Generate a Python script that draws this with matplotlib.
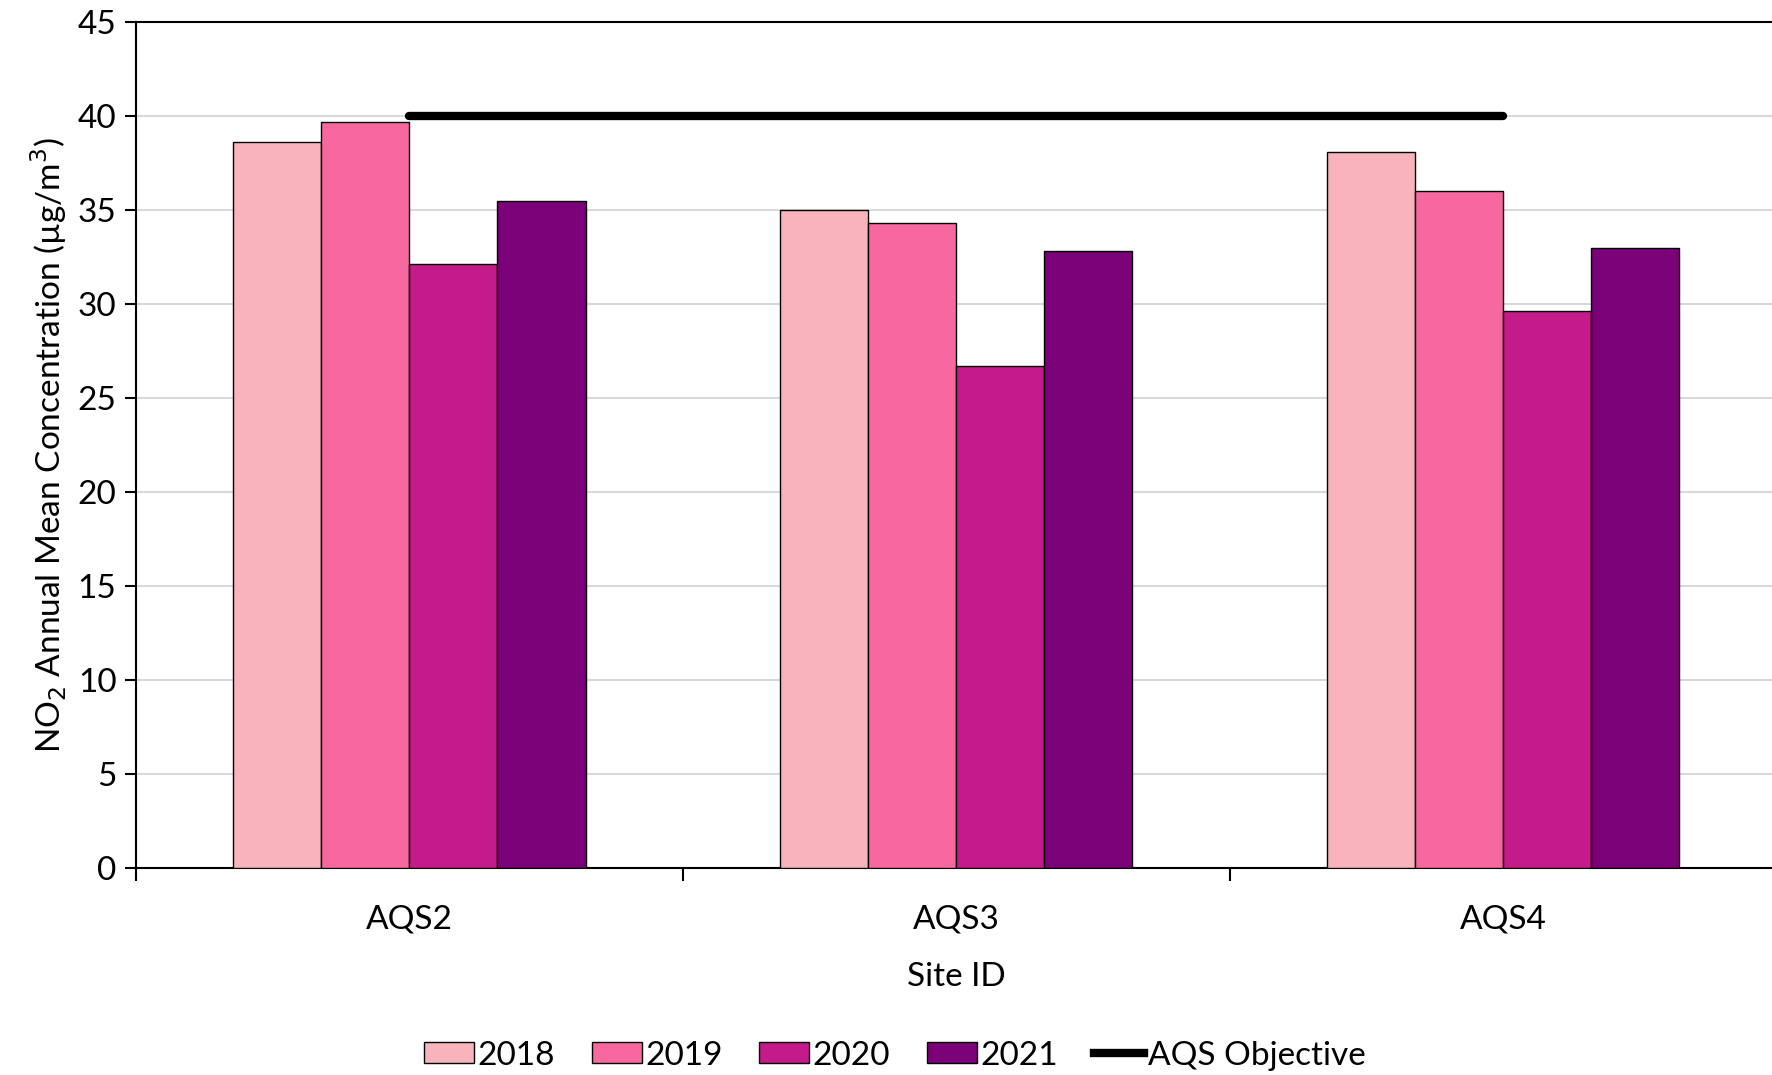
import numpy as np
import matplotlib
matplotlib.use("Agg")
import matplotlib.pyplot as plt
from matplotlib.lines import Line2D
from matplotlib.patches import Patch

plt.rcParams['font.family'] = ['Lato', 'DejaVu Sans']

sites = ['AQS2', 'AQS3', 'AQS4']
years = ['2018', '2019', '2020', '2021']
conc_2018 = [38.6, 35.0, 38.1]
conc_2019 = [39.7, 34.3, 36.0]
conc_2020 = [32.1, 26.7, 29.6]
conc_2021 = [35.5, 32.8, 33.0]
objective = 40
colors = ['#F9B3BB', '#F768A1', '#C51B8A', '#7A0177']

series = [conc_2018, conc_2019, conc_2020, conc_2021]

fig = plt.figure(figsize=(17.72, 10.75), dpi=100)
ax = fig.add_axes([0.0767, 0.1926, 0.926, 0.787])

centers = np.arange(len(sites)) + 0.5
w = 0.161
for i, (vals, c) in enumerate(zip(series, colors)):
    ax.bar(centers + (i - 1.5) * w, vals, width=w, color=c,
           edgecolor='black', linewidth=1.0, zorder=3)

# objective line spans the site centres
ax.plot([centers[0], centers[-1]], [objective, objective], color='black',
        linewidth=6, solid_capstyle='round', zorder=4)

ax.set_xlim(0, 3.0)
ax.set_ylim(0, 45)
ax.set_yticks(np.arange(0, 46, 5))
ax.yaxis.grid(True, color='#D9D9D9', linewidth=1.5, zorder=0)
ax.set_axisbelow(True)

ax.set_xticks([0, 1, 2, 3])
ax.set_xticklabels([])
ax.set_xticks(centers, minor=True)
ax.set_xticklabels(sites, minor=True)
ax.tick_params(axis='x', which='major', length=9, width=1.5, direction='out')
ax.tick_params(axis='x', which='minor', length=0, pad=26, labelsize=24)
ax.tick_params(axis='y', length=8, width=1.5, labelsize=24, pad=6)

for s in ['left', 'bottom', 'top']:
    ax.spines[s].set_linewidth(1.5)
    ax.spines[s].set_color('black')
ax.spines['right'].set_visible(False)

ax.set_xlabel('Site ID', fontsize=24, labelpad=20)
ax.set_ylabel('NO$_2$ Annual Mean Concentration (µg/m$^3$)', fontsize=24, labelpad=6)

handles = [Patch(facecolor=c, edgecolor='black', linewidth=1.0) for c in colors]
handles.append(Line2D([0], [0], color='black', linewidth=6))
fig.legend(handles, years + ['AQS Objective'], loc='center',
           bbox_to_anchor=(0.505, 0.018), ncol=5, frameon=False, fontsize=24,
           handlelength=1.5, handleheight=0.6, handletextpad=0.1, columnspacing=1.1)

fig.savefig('out.png', dpi=100)
